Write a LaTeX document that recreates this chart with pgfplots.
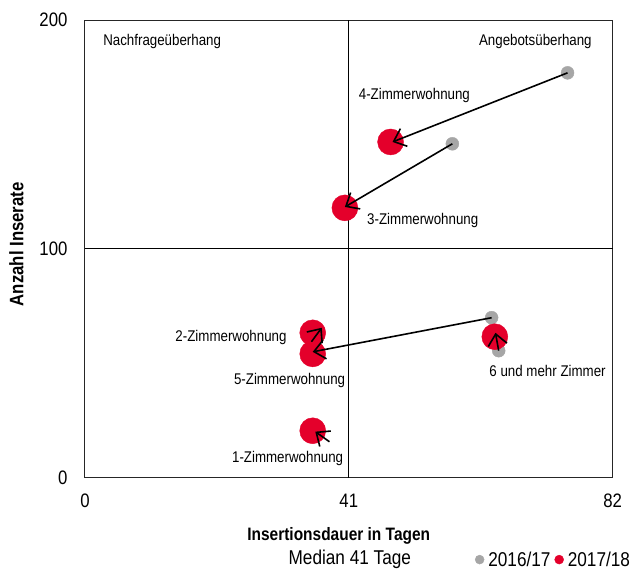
\documentclass[border=0pt]{standalone}
\usepackage{pgfplots}
\pgfplotsset{compat=1.18}
\usetikzlibrary{arrows.meta}
\usepackage{fontspec}
\setmainfont{Liberation Sans}[FakeStretch=0.86]
\definecolor{myred}{HTML}{E4002B}
\definecolor{mygrey}{HTML}{A6A6A6}
\pgfplotsset{arr/.style={black, line width=1.6pt, -{Straight Barb[length=11pt,width=19pt,line width=1.6pt]}, forget plot, on layer=axis foreground}}
\begin{document}
\begin{tikzpicture}
\begin{axis}[
  set layers,
  scale only axis, width=528pt, height=458pt,
  xmin=0, xmax=82, ymin=0, ymax=200,
  xtick={0,41,82}, ytick={0,100,200},
  tick style={draw=none},
  axis line style={draw=black!85, line width=0.9pt},
  /pgf/number format/assume math mode=true,
  ticklabel style={font=\fontsize{19.5}{22}\selectfont},
  xticklabel style={anchor=center, yshift=-23pt},
  yticklabel style={anchor=east, xshift=-14pt},
  xlabel={\textbf{Insertionsdauer in Tagen}},
  xlabel style={at={(axis description cs:0.481,-0.128)}, anchor=center, font=\fontsize{18}{20}\selectfont},
  ylabel={\textbf{Anzahl Inserate}},
  ylabel style={at={(axis description cs:-0.130,0.51)}, anchor=center, font=\fontsize{19.5}{20}\selectfont},
  clip=false,
  legend columns=2,
  legend style={draw=none, fill=none, at={(axis description cs:0.888,-0.179)}, anchor=center, font=\fontsize{20}{22}\selectfont, column sep=2pt, inner sep=0pt},
]
\addplot[black, line width=1pt, forget plot] coordinates {(41,0)(41,200)};
\addplot[black, line width=1pt, forget plot] coordinates {(0,100)(82,100)};
% 2016/17
\addplot[only marks, mark=*, mark size=6.5pt, mygrey, mark options={draw=mygrey, fill=mygrey},
  legend image code/.code={\fill[mygrey] (0.12cm,0pt) circle (4.5pt);}]
  coordinates {(75.0,176.9)(57.1,145.9)(63.2,69.9)(64.3,55.5)(35.6,19.0)(35.3,62.0)};
\addlegendentry{2016/17}
% 2017/18
\addplot[only marks, mark=*, mark size=13pt, myred, mark options={draw=myred, fill=myred},
  legend image code/.code={\fill[myred] (0.12cm,0pt) circle (4.5pt);}]
  coordinates {(47.5,146.7)(40.4,117.9)(35.4,63.3)(35.4,54.1)(35.4,20.5)(63.7,61.6)};
\addlegendentry{2017/18}
% arrows
\addplot[arr] coordinates {(75.0,176.9)(47.8,146.7)};
\addplot[arr] coordinates {(57.1,145.9)(40.4,118.3)};
\addplot[arr] coordinates {(63.2,69.9)(35.4,55.0)};
\addplot[arr] coordinates {(35.2,59.4)(36.8,65.5)};
\addplot[arr] coordinates {(38.0,15.7)(35.8,20.1)};
\addplot[arr] coordinates {(64.3,55.5)(63.8,63.3)};
% annotations
\begin{scope}[every node/.style={font=\fontsize{15.5}{18}\selectfont}]
\node at (axis cs:12.0,190.4) {Nachfrageüberhang};
\node at (axis cs:70.0,190.4) {Angebotsüberhang};
\node at (axis cs:51.2,167.2) {4-Zimmerwohnung};
\node at (axis cs:52.5,112.2) {3-Zimmerwohnung};
\node at (axis cs:22.7,61.1) {2-Zimmerwohnung};
\node at (axis cs:31.8,42.4) {5-Zimmerwohnung};
\node at (axis cs:71.9,46.7) {6 und mehr Zimmer};
\node at (axis cs:31.5,8.3) {1-Zimmerwohnung};
\end{scope}
\node[font=\fontsize{20}{22}\selectfont] at (axis description cs:0.502,-0.179) {Median 41 Tage};
\end{axis}
\path[use as bounding box] (-85pt,-93pt) rectangle (547pt,478pt);
\end{tikzpicture}
\end{document}
